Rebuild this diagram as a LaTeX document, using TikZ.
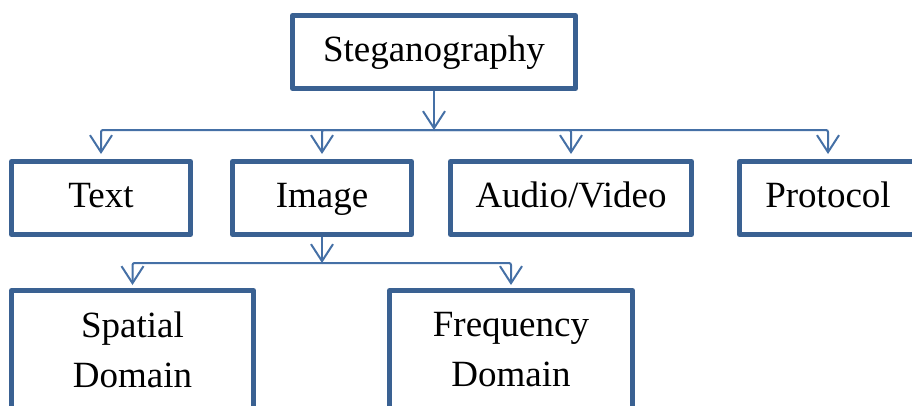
\documentclass[tikz,border=0pt]{standalone}
\usepackage{fontspec}
\setmainfont{Liberation Serif}
\usetikzlibrary{arrows.meta}
\definecolor{boxblue}{HTML}{3A6192}
\definecolor{linkblue}{HTML}{4570A6}
\tikzset{
  x=1pt, y=-1pt,
  box/.style={draw=boxblue, line width=5pt, line join=round, fill=white,
    inner sep=0pt, outer sep=2.5pt, minimum height=73pt,
    font=\fontsize{37}{50}\selectfont, text height=26pt, text depth=8pt},
  tallbox/.style={draw=boxblue, line width=5pt, line join=round, fill=white,
    inner sep=0pt, outer sep=2.5pt, align=center,
    font=\fontsize{37}{50}\selectfont},
  link/.style={draw=linkblue, line width=2pt, rounded corners=2pt,
    -{Straight Barb[length=17pt,width=22pt,line width=2pt]}},
}
\begin{document}
\begin{tikzpicture}
\path[use as bounding box, clip] (0,0) rectangle (912,405);

% top level
\node[box, minimum width=283pt] (stg) at (434,52) {Steganography};

% carriers
\node[box, minimum width=179pt] (txt) at (101,198) {Text};
\node[box, minimum width=179pt] (img) at (322,198) {Image};
\node[box, minimum width=241pt] (av)  at (571,198) {Audio/Video};
\node[box, minimum width=177pt] (prt) at (828,198) {Protocol};

% image domains
\node[tallbox, minimum width=242pt, minimum height=118pt] (spa) at (132.5,349.5) {Spatial\\Domain};
\node[tallbox, minimum width=243pt, minimum height=118pt] (frq) at (511,349.5) {Frequency\\Domain};

% bus levels
\coordinate (bus1) at (434,130);
\coordinate (bus2) at (322,263);

% connectors
\draw[link] (stg.south) -- (bus1);
\draw[link, shorten >=5pt] (bus1) -| (txt.north);
\draw[link, shorten >=5pt] (bus1) -| (img.north);
\draw[link, shorten >=5pt] (bus1) -| (av.north);
\draw[link, shorten >=5pt] (bus1) -| (prt.north);

\draw[link] (img.south) -- (bus2);
\draw[link, shorten >=3pt] (bus2) -| (spa.north);
\draw[link, shorten >=3pt] (bus2) -| (frq.north);
\end{tikzpicture}
\end{document}
